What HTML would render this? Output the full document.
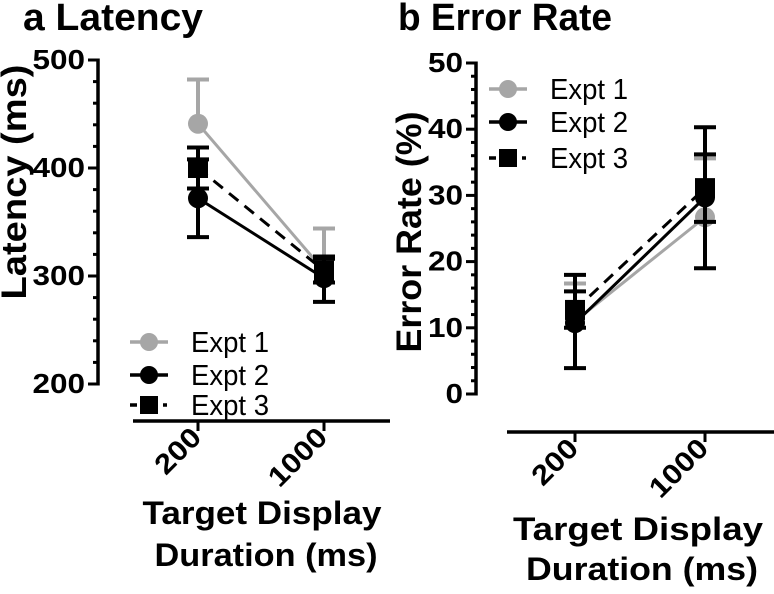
<!DOCTYPE html>
<html><head><meta charset="utf-8"><style>
html,body{margin:0;padding:0;background:#fff;}
svg{display:block;font-family:"Liberation Sans",Arial,sans-serif;}
</style></head><body>
<svg id="chart" width="774" height="594" viewBox="0 0 774 594">
<text x="23" y="30" font-size="38" font-weight="bold" textLength="180" lengthAdjust="spacingAndGlyphs">a Latency</text>
<text x="398" y="30" font-size="38" font-weight="bold" textLength="214" lengthAdjust="spacingAndGlyphs">b Error Rate</text>
<text transform="translate(26,182) rotate(-90)" text-anchor="middle" font-size="35" font-weight="bold" textLength="235" lengthAdjust="spacingAndGlyphs">Latency (ms)</text>
<text transform="translate(421,232) rotate(-90)" text-anchor="middle" font-size="35" font-weight="bold" textLength="241" lengthAdjust="spacingAndGlyphs">Error Rate (%)</text>
<g font-size="32" font-weight="bold" text-anchor="middle">
<text x="262" y="524" textLength="239" lengthAdjust="spacingAndGlyphs">Target Display</text>
<text x="266" y="566" textLength="223" lengthAdjust="spacingAndGlyphs">Duration (ms)</text>
<text x="638" y="540" textLength="250" lengthAdjust="spacingAndGlyphs">Target Display</text>
<text x="642" y="580" textLength="232" lengthAdjust="spacingAndGlyphs">Duration (ms)</text>
</g>
<g id="plots"></g>
</svg>
<script>
const categories = ["200", "1000"];
const seriesNames = ["Expt 1", "Expt 2", "Expt 3"];
// Panel a: latency (ms)
const latMean = [[441, 305], [372, 298], [400, 305]];
const latUp   = [[482, 344], [408, 318], [419, 316]];
const latDown = [[400, 277], [336, 276], [381, 294]];
const latTicks = [200, 300, 400, 500];
// Panel b: error rate (%)
const errMean = [[11, 26.7], [10.7, 29.7], [12.7, 31.1]];
const errUp   = [[16.7, 35.6], [18, 40.3], [15.5, 36.2]];
const errDown = [[5.3, 18], [3.9, 19], [10, 26]];
const errTicks = [0, 10, 20, 30, 40, 50];

const NS = "http://www.w3.org/2000/svg";
const root = document.getElementById("plots");
function el(tag, attrs, parent) {
  const e = document.createElementNS(NS, tag);
  for (const k in attrs) e.setAttribute(k, attrs[k]);
  (parent || root).appendChild(e);
  return e;
}
const colors = ["#a6a6a6", "#000", "#000"];
const markers = ["circle", "circle", "square"];
const showLowerCap = [false, true, true];

function drawPanel(p) {
  const g = el("g", {});
  
  
  const y = v => p.y0 - (v - p.vmin) / (p.vmax - p.vmin) * (p.y0 - p.y1);
  const x = i => p.xs[i];
  const ax = el("line", {x1: p.ax, x2: p.ax, y1: y(p.vmin) + 1.5, y2: y(p.vmax) - 1.5, stroke: "#000", "stroke-width": 3.5}, g);
  
  
  for (let v = p.vmin; v <= p.vmax + 1e-9; v += p.minor) {
    const isMajor = p.ticks.some(t => Math.abs(t - v) < 1e-6);
    const t = el("line", {x1: p.ax - (isMajor ? 10 : 5), x2: p.ax, y1: y(v), y2: y(v), stroke: "#000", "stroke-width": 3}, g);
    
    
  }
  p.ticks.forEach(v => {
    const s = String(v);
    const t = el("text", {x: p.ax - 13, y: y(v) + 9, "text-anchor": "end", "font-size": 28, "font-weight": "bold", textLength: s.length * 17.5, lengthAdjust: "spacingAndGlyphs"}, g);
    t.textContent = s;
    
    
  });
  const xa = el("line", {x1: p.xa0, x2: p.xa1, y1: p.xay, y2: p.xay, stroke: "#000", "stroke-width": 3.5}, g);
  
  
  categories.forEach((c, i) => {
    const t = el("line", {x1: x(i), x2: x(i), y1: p.xay, y2: p.xay + 10, stroke: "#000", "stroke-width": 3}, g);
    
    
    const lb = el("text", {transform: `translate(${x(i) + 5},${p.xay + 18}) rotate(-45)`, "text-anchor": "end", "font-size": 28, "font-weight": "bold", textLength: c.length * 17.5, lengthAdjust: "spacingAndGlyphs"}, g);
    lb.textContent = c;
    
    
  });
  seriesNames.forEach((s, si) => {
    const sg = el("g", {}, g);
    
    
    const ln = el("line", {x1: x(0), y1: y(p.mean[si][0]), x2: x(1), y2: y(p.mean[si][1]), stroke: colors[si], "stroke-width": 3, "stroke-dasharray": si === 2 ? "12 8" : "none"}, sg);
    
    
    categories.forEach((c, i) => {
      const yu = y(p.up[si][i]);
      const yd = showLowerCap[si] ? y(p.down[si][i]) : y(p.mean[si][i]);
      let d = `M${x(i)},${yu}V${yd}M${x(i) - 11},${yu}h22`;
      if (showLowerCap[si]) d += `M${x(i) - 11},${yd}h22`;
      const eb = el("path", {d: d, stroke: colors[si], "stroke-width": 4, fill: "none"}, sg);
      
      
      let m;
      if (markers[si] === "circle") m = el("circle", {cx: x(i), cy: y(p.mean[si][i]), r: 10, fill: colors[si]}, sg);
      else m = el("rect", {x: x(i) - 10, y: y(p.mean[si][i]) - 10, width: 20, height: 20, fill: colors[si]}, sg);
      
      
    });
  });
  seriesNames.forEach((s, si) => {
    const lg = el("g", {}, g);
    
    
    const ly = p.legY[si];
    if (si === 2) {
      el("line", {x1: p.legX - 19, x2: p.legX - 12, y1: ly, y2: ly, stroke: "#000", "stroke-width": 3.5}, lg);
      el("line", {x1: p.legX + 14, x2: p.legX + 18, y1: ly, y2: ly, stroke: "#000", "stroke-width": 3.5}, lg);
      el("rect", {x: p.legX - 9, y: ly - 9, width: 18, height: 18, fill: "#000"}, lg);
    } else {
      el("line", {x1: p.legX - 19, x2: p.legX + 19, y1: ly, y2: ly, stroke: colors[si], "stroke-width": 3.5}, lg);
      el("circle", {cx: p.legX, cy: ly, r: 9, fill: colors[si]}, lg);
    }
    const t = el("text", {x: p.legX + 42, y: ly + 10, "font-size": 29, textLength: 78, lengthAdjust: "spacingAndGlyphs"}, lg);
    t.textContent = s;
  });
}

drawPanel({name: "panel-a-latency", ax: 98, vmin: 200, vmax: 500, y0: 384, y1: 60, minor: 20, ticks: latTicks,
  xs: [198, 324], xa0: 133, xa1: 390, xay: 421, mean: latMean, up: latUp, down: latDown,
  legX: 149, legY: [342, 375, 405]});
drawPanel({name: "panel-b-error-rate", ax: 476, vmin: 0, vmax: 50, y0: 394, y1: 63, minor: 2, ticks: errTicks,
  xs: [575, 705], xa0: 507, xa1: 774, xay: 432, mean: errMean, up: errUp, down: errDown,
  legX: 508, legY: [89, 122, 158]});
</script>
</body></html>
